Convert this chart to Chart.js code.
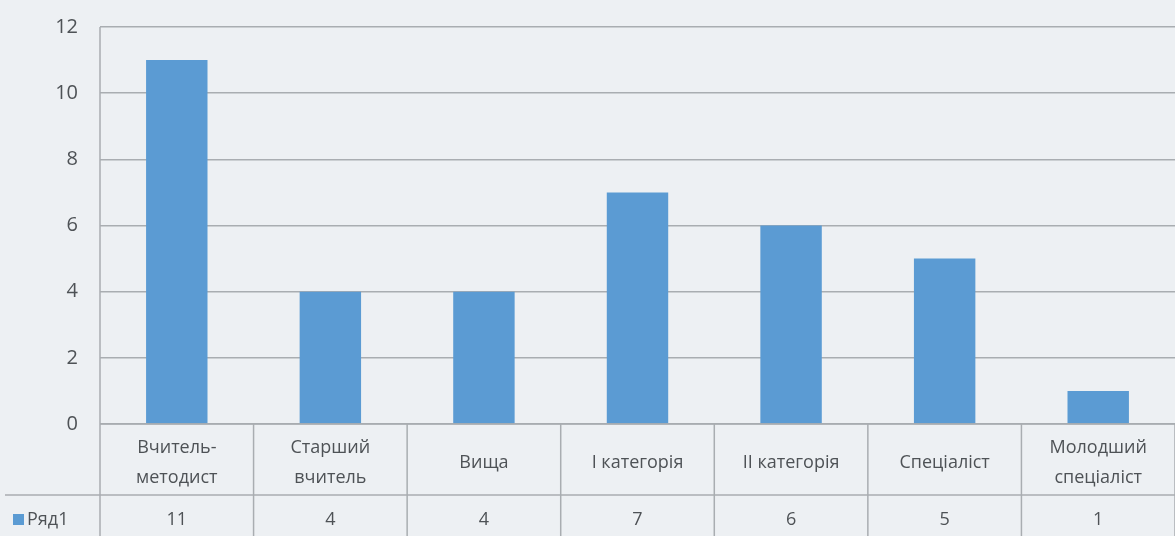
<!DOCTYPE html>
<html>
<head>
<meta charset="utf-8">
<script src="https://cdn.jsdelivr.net/npm/chart.js@4/dist/chart.umd.min.js"></script>
<style>
  html, body { margin: 0; padding: 0; background: #edf0f3; overflow: hidden; }
  #wrap { width: 1175px; height: 536px; }
</style>
</head>
<body>
<div id="wrap"><canvas id="grades"></canvas></div>
<script>
// categories (two lines where the original wraps)
var categories = [
  ['Вчитель-', 'методист'],
  ['Старший', 'вчитель'],
  ['Вища'],
  ['І категорія'],
  ['ІІ категорія'],
  ['Спеціаліст'],
  ['Молодший', 'спеціаліст']
];
var seriesName = 'Ряд1';
var values = [11, 4, 4, 7, 6, 5, 1];
var yTicks = [0, 2, 4, 6, 8, 10, 12];

var barColor = '#5b9bd3';
var gridColor = '#a9adb1';
var textColor = '#4e5256';
var fontFamily = '"Open Sans", "Noto Sans", sans-serif';

var tableRowY = 495; // line between labels row and values row

var dataTable = {
  id: 'dataTable',
  beforeDraw: function(chart) {
    var c = chart.ctx;
    c.save();
    c.fillStyle = '#edf0f3';
    c.fillRect(0, 0, chart.width, chart.height);
    c.restore();
  },
  afterDraw: function(chart) {
    var c = chart.ctx;
    var x = chart.scales.x;
    var area = chart.chartArea;
    var step = x.getPixelForValue(1) - x.getPixelForValue(0);
    var bottom = chart.height;
    c.save();
    c.strokeStyle = gridColor;
    c.lineWidth = 1.5;
    // vertical separators of the table
    for (var i = 0; i <= categories.length; i++) {
      var bx = x.getPixelForValue(0) - step / 2 + i * step;
      c.beginPath();
      c.moveTo(bx, i === 0 ? area.top : area.bottom);
      c.lineTo(bx, bottom);
      c.stroke();
    }
    // horizontal line under the category row
    c.beginPath();
    c.moveTo(5, tableRowY);
    c.lineTo(chart.width, tableRowY);
    c.stroke();
    c.beginPath();
    c.moveTo(area.left, area.bottom);
    c.lineTo(chart.width, area.bottom);
    c.stroke();

    c.fillStyle = textColor;
    c.font = '18px ' + fontFamily;
    c.textAlign = 'center';
    c.textBaseline = 'middle';
    var midLabels = (area.bottom + tableRowY) / 2 + 3;
    var valueY = 520;
    categories.forEach(function(lines, i) {
      var cx = x.getPixelForValue(i);
      var lh = 30;
      var y0 = midLabels - (lines.length - 1) * lh / 2;
      lines.forEach(function(t, k) { c.fillText(t, cx, y0 + k * lh); });
      c.fillText(String(values[i]), cx, valueY);
    });
    // legend key in the first column
    c.fillStyle = barColor;
    c.fillRect(13, valueY - 6, 11, 11);
    c.fillStyle = textColor;
    c.textAlign = 'left';
    c.fillText(seriesName, 27, valueY);
    c.restore();
  }
};

new Chart('grades', {
  type: 'bar',
  data: {
    labels: categories.map(function(l) { return l.join(' '); }),
    datasets: [{
      label: seriesName,
      data: values,
      backgroundColor: barColor,
      barPercentage: 0.4,
      categoryPercentage: 1.0
    }]
  },
  options: {
    responsive: true,
    maintainAspectRatio: false,
    animation: false,
    layout: { padding: { top: 27, right: 0, left: 0, bottom: 0 } },
    plugins: { legend: { display: false }, tooltip: { enabled: false } },
    scales: {
      x: {
        ticks: { display: false },
        grid: { display: false },
        border: { display: false },
        afterFit: function(s) { s.height = 112; }
      },
      y: {
        min: 0,
        max: 12,
        afterBuildTicks: function(s) { s.ticks = yTicks.map(function(v) { return { value: v }; }); },
        ticks: { color: textColor, font: { size: 20, family: fontFamily }, padding: 22 },
        grid: { color: gridColor, lineWidth: 1.5, drawTicks: false },
        border: { display: false },
        afterFit: function(s) { s.width = 100; s.paddingTop = 0; s.paddingBottom = 0; }
      }
    }
  },
  plugins: [dataTable]
});
</script>
</body>
</html>
